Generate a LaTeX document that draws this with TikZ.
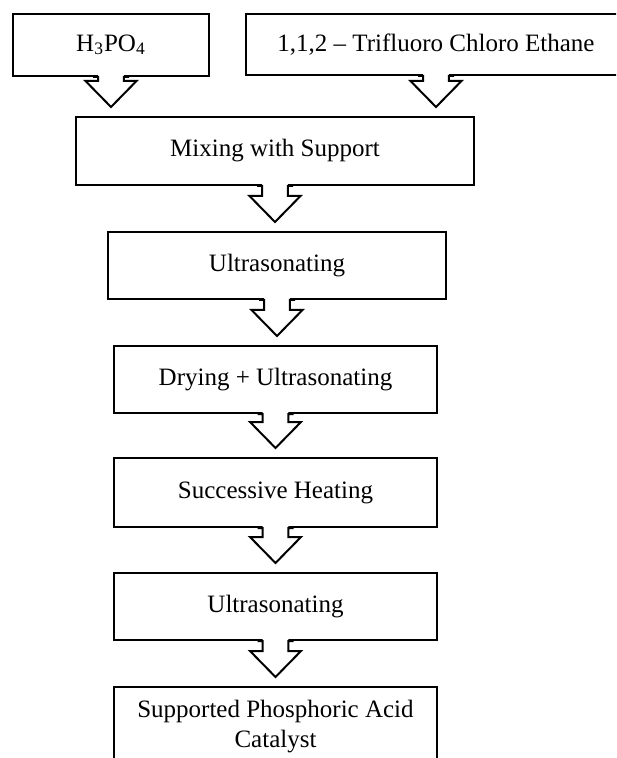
\documentclass[tikz,border=0pt]{standalone}
\usepackage{fontspec}
\setmainfont{Liberation Serif}
\usetikzlibrary{calc}

\tikzset{
	stage/.style={draw, line width=1pt, fill=white, inner sep=0pt, align=center, font=\fontsize{12.5}{15}\selectfont},
	blockarrow/.style={line width=1pt, line join=miter}
}
\newcommand{\flowarrow}[2]{%
	\fill[white] let \p1=(#1.south), \p2=(#1.south |- #2.north) in
		(\x1-6.4pt,\y1+2pt) -- (\x1-6.4pt,\y2+17.5pt) -- (\x1-12.75pt,\y2+17.5pt) -- (\x1,\y2+4.5pt)
		-- (\x1+12.75pt,\y2+17.5pt) -- (\x1+6.4pt,\y2+17.5pt) -- (\x1+6.4pt,\y1+2pt) -- cycle;
	\draw[blockarrow] let \p1=(#1.south), \p2=(#1.south |- #2.north) in
		(\x1-9pt,\y1) -- (\x1-6.4pt,\y1) -- (\x1-6.4pt,\y2+17.5pt) -- (\x1-12.75pt,\y2+17.5pt) -- (\x1,\y2+4.5pt)
		-- (\x1+12.75pt,\y2+17.5pt) -- (\x1+6.4pt,\y2+17.5pt) -- (\x1+6.4pt,\y1) -- (\x1+9pt,\y1);
}

\begin{document}
\begin{tikzpicture}[x=0.5pt, y=-0.5pt]
		\useasboundingbox (0,0) rectangle (616,758);
		\clip (0,0) rectangle (616,758);
		\node[stage, minimum width=98pt, minimum height=31pt] (h3po4) at (111,45) {H\textsubscript{3}PO\textsubscript{4}};
		\node[stage, minimum width=190pt, minimum height=30.5pt] (tfce) at (436,44.5) {1,1,2 -- Trifluoro Chloro Ethane};
		\node[stage, minimum width=199pt, minimum height=34pt] (mixing) at (275,151) {Mixing with Support};
		\node[stage, minimum width=169pt, minimum height=33.5pt] (ultra1) at (277,265.5) {Ultrasonating};
		\node[stage, minimum width=161.5pt, minimum height=33.5pt] (drying) at (275.5,379.5) {Drying + Ultrasonating};
		\node[stage, minimum width=161.5pt, minimum height=34.5pt] (heating) at (275.5,492.5) {Successive Heating};
		\node[stage, minimum width=161.5pt, minimum height=33.5pt] (ultra2) at (275.5,606.5) {Ultrasonating};
		\node[stage, minimum width=161.5pt, minimum height=40pt] (catalyst) at (275.5,727) {Supported Phosphoric Acid\\Catalyst};
		\flowarrow{h3po4}{mixing}
		\flowarrow{tfce}{mixing}
		\flowarrow{mixing}{ultra1}
		\flowarrow{ultra1}{drying}
		\flowarrow{drying}{heating}
		\flowarrow{heating}{ultra2}
		\flowarrow{ultra2}{catalyst}
\end{tikzpicture}
\end{document}
